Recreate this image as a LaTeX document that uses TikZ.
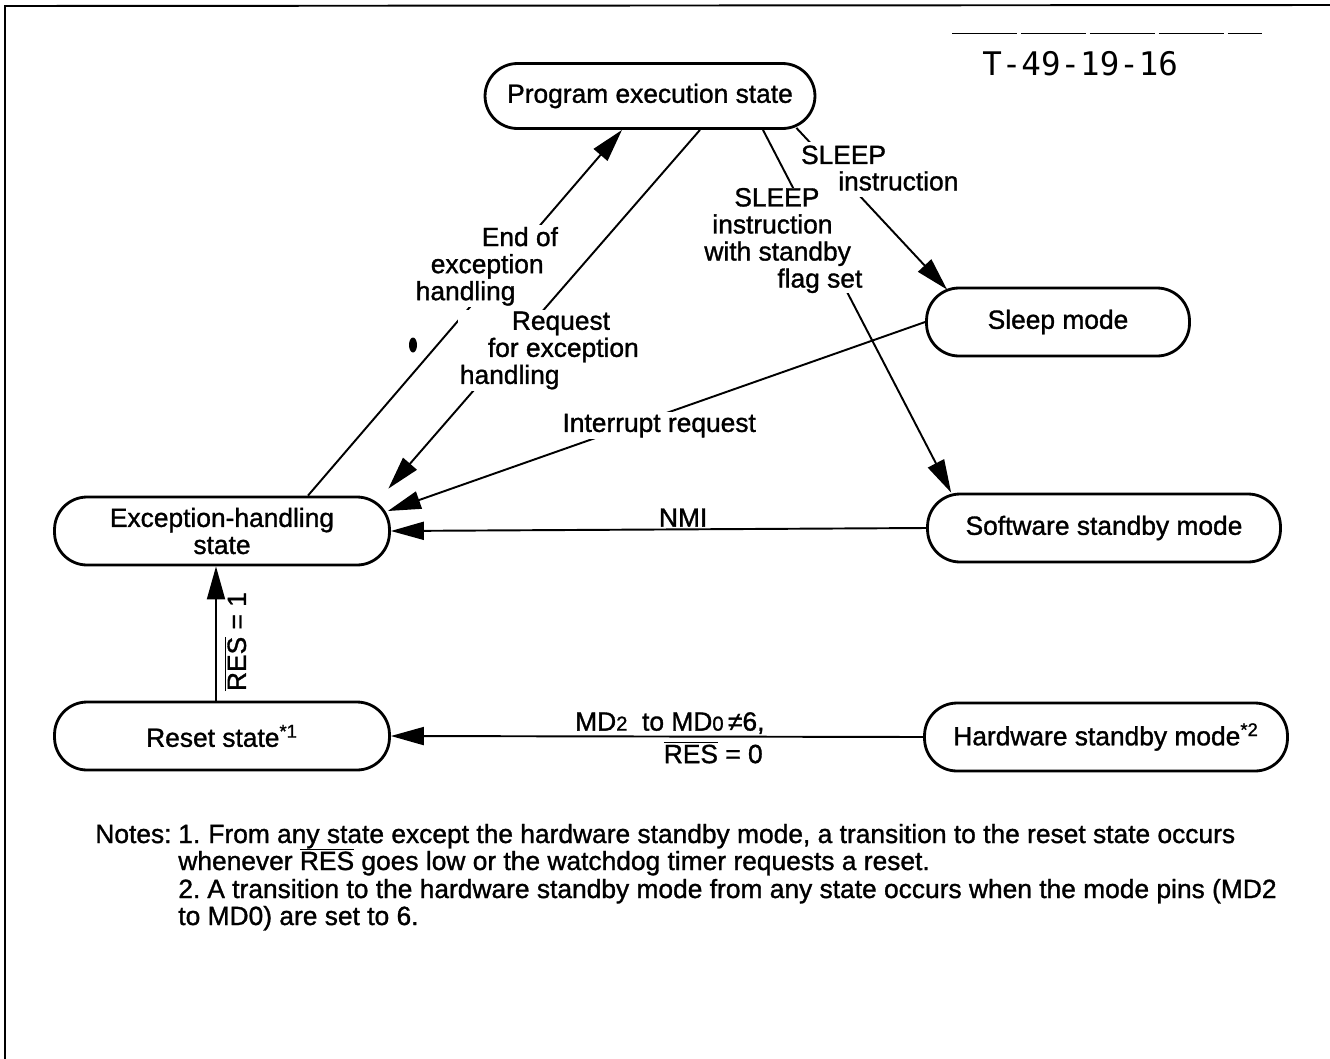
\documentclass[tikz,border=0pt]{standalone}
\usepackage{fontspec}
\setmainfont{Liberation Sans}[FakeBold=1.2]
\newfontfamily\tagfont{DejaVu Sans Mono}
\usetikzlibrary{arrows.meta,positioning}
\newcommand{\barsig}[1]{$\overline{\mbox{#1}}$}
\newcommand{\pinno}[1]{{\fontsize{11.5pt}{12pt}\selectfont #1}}

\begin{document}
\begin{tikzpicture}[x=0.02cm, y=-0.02cm, >={Triangle[length=0.66cm, width=0.36cm]},
    font=\fontsize{15pt}{15.4pt}\selectfont,
    state/.style={draw, rectangle, rounded corners=0.65cm, line width=1.6pt, minimum height=1.36cm, align=center, inner sep=2pt},
    edge/.style={->, line width=1.1pt},
    lbl/.style={fill=white, inner sep=1pt, align=left},
    note/.style={anchor=base west, inner sep=0pt}]

    \useasboundingbox (0,0) rectangle (1330,1059);
    \draw[line width=1.1pt] (1330,5) -- (5,6) -- (5,1059);
    \draw[line width=0.5pt, dash pattern=on 1.3cm off 0.08cm] (952,33) -- (1262,33);
    \node[anchor=base west, inner sep=0pt, font=\tagfont\fontsize{18.5pt}{19pt}\selectfont] (tag) at (982,75) {T-49-19-16};

    \node[state, minimum width=6.6cm, minimum height=1.3cm] (prog) at (650,96) {Program execution state};
    \node[state, minimum width=5.26cm] (sleep) at (1058,322) {Sleep mode};
    \node[state, minimum width=7.06cm] (soft) at (1104,528) {Software standby mode};
    \node[state, minimum width=6.7cm] (exc) at (222,531) {Exception-handling\\state};
    \node[state, minimum width=6.7cm] (reset) at (222,736) {Reset state\textsuperscript{*1}};
    \node[state, minimum width=7.26cm] (hard) at (1106,737) {Hardware standby mode\textsuperscript{*2}};

    \draw[edge] ([xshift=1.72cm]exc.north) -- node[lbl, pos=0.627, xshift=-0.36cm] {\hspace*{1.32cm}End of\\\hspace*{0.3cm}exception\\handling} ([xshift=-0.56cm]prog.south);
    \draw[edge] ([xshift=1cm]prog.south) -- node[lbl, pos=0.615, xshift=0.82cm] {\hspace*{1.04cm}Request\\\hspace*{0.56cm}for exception\\handling} ([xshift=-0.05cm, yshift=0.14cm]exc.north east);
    \draw[edge] ([xshift=2.26cm]prog.south) -- node[lbl, pos=0.305, xshift=-0.74cm, inner sep=0pt] {\hspace*{0.6cm}SLEEP\\\hspace*{0.16cm}instruction\\with standby\\\hspace*{1.46cm}flag set} ([xshift=0.5cm]soft.north west);
    \draw[edge] ([xshift=-0.4cm, yshift=0.04cm]prog.south east) -- node[lbl, pos=0.167, xshift=0.44cm, inner sep=2pt] {SLEEP} node[lbl, pos=0.328, xshift=1.05cm, inner sep=3.5pt] {instruction} ([xshift=0.44cm, yshift=-0.06cm]sleep.north west);
    \draw[edge] (sleep.west) -- node[lbl, pos=0.495, yshift=-0.2cm] {Interrupt request} ([xshift=-0.06cm, yshift=0.4cm]exc.east);
    \draw[edge] (soft.west) -- node[above, inner sep=1pt, pos=0.454] {NMI} (exc.east);
    \draw[edge] ([xshift=-0.12cm]reset.north) -- node[sloped, below, inner sep=4pt, pos=0.44] {\barsig{RES} = 1} ([xshift=-0.12cm]exc.south);
    \draw[edge] (hard.west) -- node[pos=0.293, anchor=south east, inner sep=1pt] {MD\pinno{2}\ \ to MD\pinno{0}\,≠6,} node[pos=0.293, anchor=north east, inner sep=2pt] {\barsig{RES} = 0} (reset.east);

    \fill (413,345) ellipse [x radius=0.08cm, y radius=0.15cm];

    \node[note] (notes) at (95,843) {Notes:};
    \node[note] (num1) at (178,843) {1.};
    \node[note] (note1a) at (208,843) {From any state except the hardware standby mode, a transition to the reset state occurs};
    \node[note] (note1b) at (178,870) {whenever \barsig{RES} goes low or the watchdog timer requests a reset.};
    \node[note] (num2) at (178,898) {2.};
    \node[note] (note2a) at (207,898) {A transition to the hardware standby mode from any state occurs when the mode pins (MD2};
    \node[note] (note2b) at (178,925) {to MD0) are set to 6.};
\end{tikzpicture}
\end{document}
